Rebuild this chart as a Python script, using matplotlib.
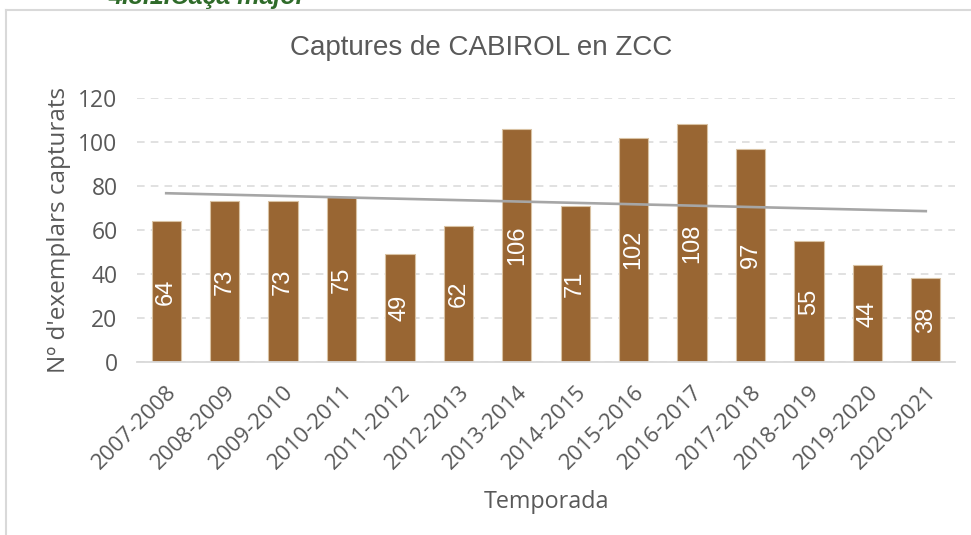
import numpy as np
import matplotlib
matplotlib.use("Agg")
import matplotlib.pyplot as plt
from matplotlib.lines import Line2D

# dades
temporades = ["2007-2008", "2008-2009", "2009-2010", "2010-2011", "2011-2012",
              "2012-2013", "2013-2014", "2014-2015", "2015-2016", "2016-2017",
              "2017-2018", "2018-2019", "2019-2020", "2020-2021"]
captures = [64, 73, 73, 75, 49, 62, 106, 71, 102, 108, 97, 55, 44, 38]
yticks = [0, 20, 40, 60, 80, 100, 120]

gris = "#595959"
marro = "#996633"

fig = plt.figure(figsize=(9.71, 5.35), dpi=100)
ax = fig.add_axes([137 / 971, 173 / 535, 818 / 971, 264 / 535])

x = np.arange(len(captures))
ax.bar(x, captures, width=0.5, color=marro, edgecolor="#d9c2a3", linewidth=0.8, zorder=3)

# etiquetes dins les barres
for xi, v in zip(x, captures):
    ax.text(xi, v / 2, str(v), rotation=90, ha="center", va="center",
            color="white", fontsize=17, family="Liberation Sans", zorder=4)

# línia de tendència
a, b = np.polyfit(x, captures, 1)
ax.plot(x, a * x + b, color="#a6a6a6", lw=1.9, zorder=5)

ax.set_xlim(-0.5, len(captures) - 0.5)
ax.set_ylim(0, 120)
ax.set_yticks(yticks)
ax.set_xticks(x)
ax.set_xticklabels(temporades, rotation=45, ha="right", rotation_mode="anchor",
                   family="Open Sans", fontsize=16, color=gris)
for lab in ax.get_yticklabels():
    lab.set_family("Open Sans")
    lab.set_fontsize(16.5)
    lab.set_color(gris)
ax.tick_params(axis="both", length=0)
ax.tick_params(axis="y", pad=14)
ax.tick_params(axis="x", pad=14)

ax.grid(axis="y", color="#d9d9d9", linestyle=(0, (5, 4)), lw=1.1, zorder=0)
for s in ["top", "right", "left"]:
    ax.spines[s].set_visible(False)
ax.spines["bottom"].set_color("#d9d9d9")
ax.spines["bottom"].set_linewidth(1.3)
ax.spines["bottom"].set_zorder(6)

ax.set_ylabel("Nº d'exemplars capturats", family="Open Sans", fontsize=17.5,
              color=gris, labelpad=5)
ax.set_xlabel("Temporada", family="Open Sans", fontsize=16.8, color=gris, labelpad=12)

fig.text(0.496, 1 - 48 / 535, "Captures de CABIROL en ZCC", ha="center", va="center",
         family="Liberation Sans", fontsize=20, color=gris)

# encapçalament tallat i marc del gràfic
fig.text(108 / 971, 1 - 4 / 535, "4.3.1.Caça major", ha="left", va="baseline",
         family="Liberation Sans", fontsize=18, fontweight="bold", fontstyle="italic",
         color="#2f6b2a")
fig.add_artist(Line2D([5.5 / 971, 1], [1 - 9.5 / 535] * 2, color="#d9d9d9", lw=1.5))
fig.add_artist(Line2D([5.5 / 971] * 2, [0, 1 - 9.5 / 535], color="#d9d9d9", lw=1.5))

fig.savefig("out.png", dpi=100)
